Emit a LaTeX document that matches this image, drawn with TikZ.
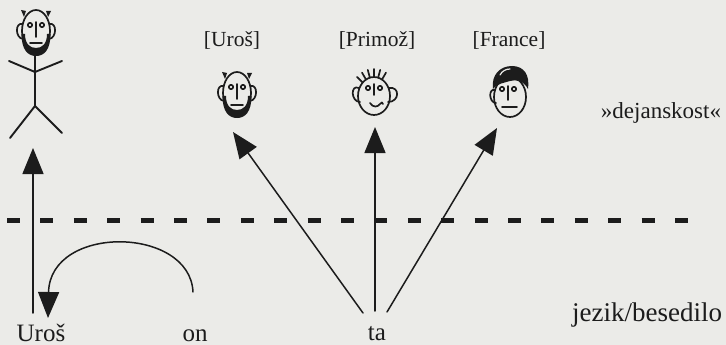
\documentclass[tikz,border=0pt]{standalone}
\usepackage{fontspec}
\setmainfont{Liberation Serif}
\usetikzlibrary{arrows.meta}
\definecolor{paper}{RGB}{235,235,232}
\definecolor{ink}{RGB}{28,28,28}

\begin{document}
\begin{tikzpicture}[x=1pt,y=-1pt,
  line join=round, line cap=round,
  conn/.style={draw=ink, line width=1.5pt, -{Triangle[length=26pt,width=21pt]}},
  divider/.style={draw=ink, line width=5pt, line cap=butt, dash pattern=on 13pt off 20.4pt},
  stroke/.style={draw=ink, line width=1.9pt},
  facestroke/.style={draw=ink, line width=1.7pt},
  botlbl/.style={inner sep=0pt, anchor=base, text=ink, font=\fontsize{25}{25}\selectfont},
  toplbl/.style={inner sep=0pt, anchor=base, text=ink, font=\fontsize{21.5}{21.5}\selectfont},
  % bearded face with two small tufts, used for the stick figure and for Uroš
  bearded/.pic={
    \draw[facestroke] (0,0) ellipse (14 and 21);
    \draw[facestroke] (-13.5,-7) .. controls (-21,-9) and (-21,7) .. (-13,8);
    \draw[facestroke] (13.5,-7) .. controls (21,-9) and (21,7) .. (13,8);
    \fill[ink] (-15,-21) -- (-10,-20) -- (-12,-14) -- cycle;
    \fill[ink] (15,-20) -- (10,-20) -- (12,-14) -- cycle;
    \draw[facestroke] (-6,-6) circle (2.2);
    \draw[facestroke] (6,-6) circle (2.2);
    \draw[facestroke] (0,-9) -- (0,6);
    \draw[facestroke] (-6,12) -- (6,12);
    \fill[ink] (-14.5,3) .. controls (-14.5,19) and (-8,25) .. (0,25)
      .. controls (8,25) and (14.5,19) .. (14.5,3) -- (11,3)
      .. controls (11,13) and (6,17) .. (0,17)
      .. controls (-6,17) and (-11,13) .. (-11,3) -- cycle;
  }]

\fill[paper] (0,0) rectangle (726,345);
\useasboundingbox (0,0) rectangle (726,345);

% stick figure
\pic at (36,31) {bearded};
\draw[stroke] (35,54) -- (35,106);
\draw[stroke] (9,61) -- (35,72) -- (62,61);
\draw[stroke] (10,138) -- (35,106) -- (62,133);

% Uroš
\pic at (237,93) {bearded};

% Primož: spiky hair and a crooked smile
\begin{scope}[shift={(374,96)}]
  \draw[facestroke] (0,0) ellipse (16 and 19);
  \draw[facestroke] (-15,-8) .. controls (-24,-12) and (-23,6) .. (-14,6);
  \draw[facestroke] (15,-8) .. controls (26,-10) and (26,6) .. (14,6);
  \foreach \a in {60,75,90,105,120,135} {
    \draw[facestroke] ({16*cos(\a)},{-19*sin(\a)}) -- ({24*cos(\a)},{-27*sin(\a)});
  }
  \draw[facestroke] (-6,-8) circle (2.2);
  \draw[facestroke] (6,-8) circle (2.2);
  \draw[facestroke] (0,-12) -- (0,-1);
  \draw[facestroke] (-4,7) .. controls (-1,12) and (4,11) .. (6,8) .. controls (7,6) and (9,6) .. (9,8);
\end{scope}

% France: dark hair
\begin{scope}[shift={(510,97)}]
  \draw[facestroke] (0,0) ellipse (16 and 20);
  \draw[facestroke] (-15,-7) .. controls (-22,-9) and (-21,6) .. (-14,6);
  \fill[ink] (-17,-8) .. controls (-19,-22) and (-10,-31) .. (2,-31)
    .. controls (14,-31) and (20,-22) .. (18,-8)
    .. controls (14,-16) and (6,-18) .. (0,-16)
    .. controls (-6,-14) and (-12,-14) .. (-17,-8) -- cycle;
  \draw[paper, line width=1.2pt] (-10,-22) .. controls (-8,-26) and (-4,-28) .. (0,-28);
  \draw[facestroke] (-8,-8) circle (2.2);
  \draw[facestroke] (4,-8) circle (2.2);
  \draw[facestroke] (-2,-11) -- (-2,3);
  \draw[facestroke] (-8,10) -- (7,10);
\end{scope}

% labels of the referents
\node[toplbl] (lu) at (232,47) {[Uroš]};
\node[toplbl] (lp) at (377,47) {[Primož]};
\node[toplbl] (lf) at (509,47) {[France]};
\node[inner sep=0pt, anchor=base, text=ink, font=\fontsize{23}{23}\selectfont] (real) at (661,118) {»dejanskost«};

% boundary between language and reality
\coordinate (dl) at (7,220);
\coordinate (dr) at (692,220);
\draw[divider] (dl) -- (dr);

% words of the text
\node[botlbl] (wu) at (41,341) {Uroš};
\node[botlbl] (won) at (195,341) {on};
\node[botlbl] (wta) at (377,340) {ta};
\node[botlbl, font=\fontsize{27}{27}\selectfont] (text) at (647,321) {jezik/besedilo};

% reference arrows
\coordinate (ub) at (33,313);
\coordinate (ut) at (33,148);
\draw[conn] (ub) -- (ut);

\coordinate (ons) at (193,292);
\coordinate (one) at (48,318);
\draw[conn] (ons) .. controls (190,226) and (50,224) .. (one);

\coordinate (tl) at (363,313);
\coordinate (tm) at (375,311);
\coordinate (tr) at (387,312);
\coordinate (hu) at (233,132);
\coordinate (hp) at (375,127);
\coordinate (hf) at (497,128);
\draw[conn] (tl) -- (hu);
\draw[conn] (tm) -- (hp);
\draw[conn] (tr) -- (hf);
\end{tikzpicture}
\end{document}
